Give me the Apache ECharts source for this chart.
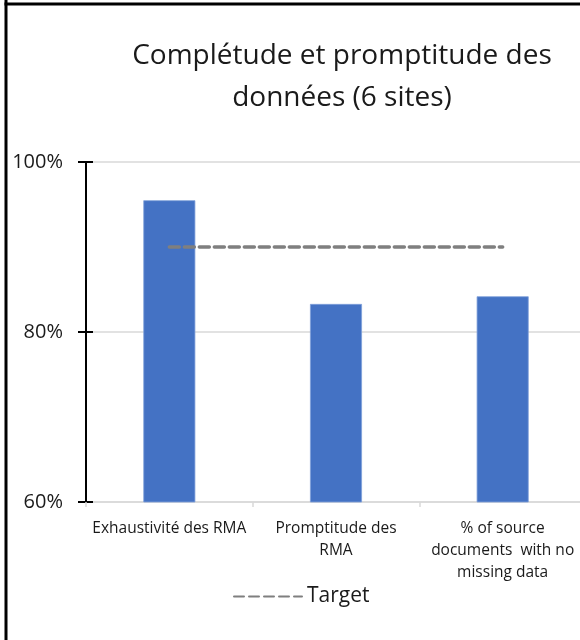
<!DOCTYPE html>
<html>
<head>
<meta charset="utf-8">
<script src="https://cdn.jsdelivr.net/npm/echarts@6/dist/echarts.min.js"></script>
<style>
html,body{margin:0;padding:0;background:#fff;overflow:hidden;width:580px;height:640px;}
#chart{width:590px;height:640px;}
</style>
</head>
<body>
<div id="chart"></div>
<script>
const categories = ["Exhaustivité des RMA", "Promptitude des\nRMA", "% of source\ndocuments  with no\nmissing data"];
const values = [95.5, 83.3, 84.2];
const target = [90, 90, 90];
const yTicks = [60, 80, 100];
const titleText = "Complétude et promptitude des\ndonnées (6 sites)";
const FONT = "'Open Sans', 'Noto Sans', sans-serif";

const chart = echarts.init(document.getElementById('chart'), null, {renderer: 'canvas'});
chart.setOption({
  animation: false,
  backgroundColor: '#fff',
  textStyle: {fontFamily: FONT},
  title: {
    text: titleText,
    left: 337,
    top: 30,
    textAlign: 'center',
    textStyle: {fontSize: 28, fontWeight: 'normal', color: '#1a1a1a', lineHeight: 42, fontFamily: FONT}
  },
  legend: {
    data: ['Target'],
    left: 228,
    top: 581,
    itemWidth: 68,
    itemHeight: 14,
    itemGap: 6,
    itemStyle: {color: 'rgba(0,0,0,0)', borderWidth: 0},
    textStyle: {fontSize: 21, color: '#1a1a1a', fontFamily: FONT}
  },
  grid: {left: 86, right: 4, top: 162, bottom: 138, containLabel: false},
  xAxis: {
    type: 'category',
    data: categories,
    axisLine: {lineStyle: {color: '#d9d9d9', width: 1.5}},
    axisTick: {show: true, length: 5, lineStyle: {color: '#d9d9d9', width: 1.5}},
    axisLabel: {interval: 0, fontSize: 15.5, lineHeight: 22, color: '#1a1a1a', margin: 16, fontFamily: FONT}
  },
  yAxis: [{
    type: 'value',
    min: yTicks[0],
    max: yTicks[yTicks.length - 1],
    interval: yTicks[1] - yTicks[0],
    axisLine: {show: true, lineStyle: {color: '#000', width: 2}},
    axisTick: {show: true, length: 8, lineStyle: {color: '#000', width: 2}},
    splitLine: {show: true, lineStyle: {color: '#d9d9d9', width: 1.5}},
    axisLabel: {formatter: v => v + '%', fontSize: 20, color: '#1a1a1a', margin: 23, fontFamily: FONT}
  }, {
    type: 'value',
    position: 'left',
    min: yTicks[0],
    max: yTicks[yTicks.length - 1],
    interval: yTicks[1] - yTicks[0],
    axisLine: {show: false},
    axisTick: {show: true, inside: true, length: 7, lineStyle: {color: '#000', width: 2},
      interval: (i, v) => v !== yTicks[0]},
    splitLine: {show: false},
    axisLabel: {show: false}
  }],
  series: [{
    name: 'Completeness',
    type: 'bar',
    data: values,
    barWidth: 52,
    itemStyle: {color: '#4472C4', borderColor: '#7f9fd9', borderWidth: 0.8},
    z: 2
  }, {
    name: 'Target',
    type: 'line',
    data: target,
    symbol: 'none',
    lineStyle: {color: '#7f7f7f', width: 3.5, type: [10, 5], cap: 'round'},
    itemStyle: {color: '#7f7f7f'},
    z: 3
  }],
  graphic: [
    {type: 'line', shape: {x1: 6, y1: 0, x2: 6, y2: 640}, style: {stroke: '#000', lineWidth: 3}, z: 10},
    {type: 'line', shape: {x1: 4.5, y1: 4, x2: 590, y2: 4}, style: {stroke: '#000', lineWidth: 3}, z: 10}
  ]
});
</script>
</body>
</html>
